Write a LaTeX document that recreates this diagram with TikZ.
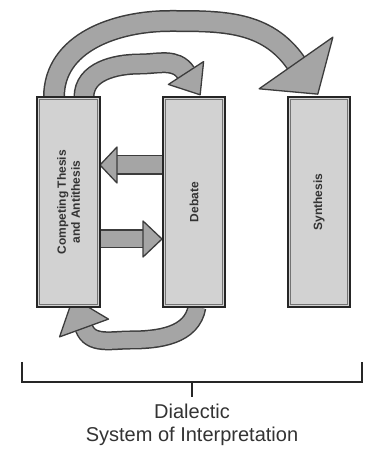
\documentclass[tikz,border=0pt]{standalone}
\usepackage{fontspec}
\setmainfont{Liberation Sans}
\usepackage{tikz}
\usetikzlibrary{calc, positioning}
\definecolor{BoxGray}{RGB}{210, 210, 210}
\definecolor{ArrowGray}{RGB}{165, 165, 165}
\definecolor{EdgeGray}{RGB}{60, 60, 60}

\tikzset{
  box/.style={draw=black!85, line width=1.6pt, fill=BoxGray, minimum width=62pt,
    minimum height=210pt, inner sep=0pt,
    path picture={\draw[black!55, line width=0.6pt]
      ([shift={(2.5pt,-2.5pt)}]path picture bounding box.north west) rectangle
      ([shift={(-2.5pt,2.5pt)}]path picture bounding box.south east);}},
  boxtext/.style={rotate=90, align=center, font=\bfseries\large, text=black!80},
  shaftout/.style={line width=22pt, draw=EdgeGray},
  shaftin/.style={line width=19pt, draw=ArrowGray},
  head/.style={fill=ArrowGray, draw=EdgeGray, line width=1.3pt, line join=round},
}

\begin{document}
\begin{tikzpicture}[x=1pt, y=1pt]
    \useasboundingbox (0,0) rectangle (367,459);

    % Cajas (solo posiciones, se dibujan despues)
    \path (68.5,257) coordinate (lftc) (194,257) coordinate (midc) (319,257) coordinate (rgtc);

    % Flecha grande: izquierda -> derecha
    \coordinate (bigstart) at (54,362);
    \coordinate (bigtop) at (170,438);
    \coordinate (bigbase) at (296,396);
    \coordinate (bigtip) at ($(bigbase)+(-55:38)$);
    \draw[shaftout] (bigstart) to[out=90,in=180] (bigtop) to[out=0,in=125] (bigbase);
    \draw[shaftin] (bigstart) to[out=90,in=180] (bigtop) to[out=0,in=125] (bigbase);
    \draw[head] ($(bigbase)!45pt!90:(bigtip)$) -- (bigtip) -- ($(bigbase)!45pt!-90:(bigtip)$) -- cycle;

    % Flecha chica: izquierda -> centro
    \coordinate (smlstart) at (84,362);
    \coordinate (smltop) at (140,395);
    \coordinate (smlbase) at (186,386);
    \coordinate (smltip) at ($(smlbase)+(-57:26)$);
    \draw[shaftout, line width=21pt] (smlstart) to[out=90,in=180] (smltop) to[out=0,in=123] (smlbase);
    \draw[shaftin, line width=18pt] (smlstart) to[out=90,in=180] (smltop) to[out=0,in=123] (smlbase);
    \draw[head] ($(smlbase)!21pt!90:(smltip)$) -- (smltip) -- ($(smlbase)!21pt!-90:(smltip)$) -- cycle;

    % Flecha de abajo: centro -> izquierda (la punta queda bajo la caja)
    \coordinate (lowstart) at (197,152);
    \coordinate (lowbot) at (130,119);
    \coordinate (lowbase) at (84,131);
    \coordinate (lowtip) at ($(lowbase)+(110:32)$);
    \draw[shaftout, line width=19pt] (lowstart) to[out=-100,in=0] (lowbot) to[out=180,in=-70] (lowbase);
    \draw[shaftin, line width=16pt] (lowstart) to[out=-100,in=0] (lowbot) to[out=180,in=-70] (lowbase);
    \draw[head] ($(lowbase)!26pt!90:(lowtip)$) -- (lowtip) -- ($(lowbase)!26pt!-90:(lowtip)$) -- cycle;

    % Flechas horizontales
    \coordinate (upbase) at (117,294);
    \coordinate (uptip) at (100,294);
    \draw[shaftout, line width=20pt] (163,294) -- (upbase);
    \draw[shaftin, line width=17pt] (163,294) -- (upbase);
    \draw[head] ($(upbase)!18pt!90:(uptip)$) -- (uptip) -- ($(upbase)!18pt!-90:(uptip)$) -- cycle;

    \coordinate (dnbase) at (143,220);
    \coordinate (dntip) at (162,220);
    \draw[shaftout, line width=19pt] (100,220) -- (dnbase);
    \draw[shaftin, line width=16pt] (100,220) -- (dnbase);
    \draw[head] ($(dnbase)!18pt!90:(dntip)$) -- (dntip) -- ($(dnbase)!18pt!-90:(dntip)$) -- cycle;

    % Cajas
    \node[box, minimum width=63pt] (lft) at (lftc) {};
    \node[box] (mid) at (midc) {};
    \node[box] (rgt) at (rgtc) {};
    \node[boxtext] (lfttxt) at (lft) {Competing Thesis\\and Antithesis};
    \node[boxtext] (midtxt) at (mid) {Debate};
    \node[boxtext] (rgttxt) at (rgt) {Synthesis};

    % Llave
    \coordinate (brl) at (22,77);
    \coordinate (brr) at (362,77);
    \coordinate (brc) at (192,77);
    \draw[line width=1.6pt, black!85] ([yshift=20pt]brl) -- (brl) -- (brr) -- ([yshift=20pt]brr);
    \draw[line width=1.6pt, black!85] (brc) -- ++(0,-15) coordinate (brtick);
    \node[below=3pt of brtick, align=center, font=\fontsize{20}{23}\selectfont, text=black!80] (dial) {Dialectic\\System of Interpretation};
  \end{tikzpicture}
\end{document}
